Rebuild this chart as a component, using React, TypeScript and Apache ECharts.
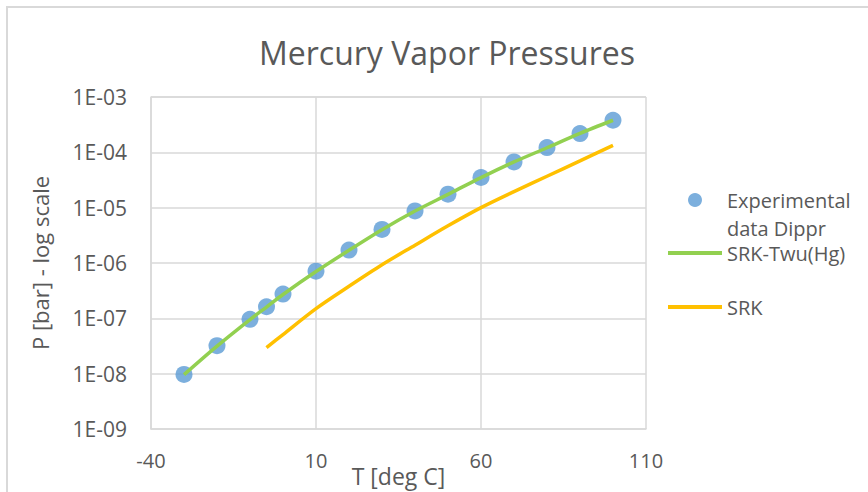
import React, { useEffect, useRef } from "react";
import * as echarts from "echarts";

const expT = [-30, -20, -10, -5, 0, 10, 20, 30, 40, 50, 60, 70, 80, 90, 100];
const expP = [9.7e-9, 3.2e-8, 9.6e-8, 1.62e-7, 2.75e-7, 7.1e-7, 1.71e-6, 4.04e-6, 8.75e-6, 1.75e-5, 3.51e-5, 6.7e-5, 1.22e-4, 2.18e-4, 3.8e-4];

const twuT = [-30, -20, -10, -5, 0, 10, 20, 30, 40, 50, 60, 70, 80, 90, 100];
const twuP = [9.6e-9, 3.15e-8, 9.5e-8, 1.6e-7, 2.7e-7, 7.0e-7, 1.7e-6, 4.0e-6, 8.7e-6, 1.74e-5, 3.5e-5, 6.7e-5, 1.21e-4, 2.2e-4, 3.8e-4];

const srkT = [-5, 0, 10, 20, 30, 40, 50, 60, 70, 80, 90, 100];
const srkP = [2.95e-8, 5.1e-8, 1.5e-7, 3.8e-7, 9.3e-7, 2.1e-6, 4.7e-6, 1.0e-5, 1.95e-5, 3.7e-5, 7.0e-5, 1.34e-4];

const seriesNames = ["Experimental data Dippr", "SRK-Twu(Hg)", "SRK"];
const titleText = "Mercury Vapor Pressures";
const xName = "T [deg C]";
const yName = "P [bar] - log scale";

const FONT = "'Open Sans', 'Noto Sans', sans-serif";
const TXT = "#595959";
const GRID = "#D9D9D9";

function zip(xs: number[], ys: number[]) {
  return xs.map((x, i) => [x, ys[i]]);
}

function fmtE(v: number) {
  const e = Math.round(Math.log10(v));
  return "1E" + (e < 0 ? "-" : "+") + String(Math.abs(e)).padStart(2, "0");
}

export default function App() {
  const ref = useRef<HTMLDivElement>(null);
  useEffect(() => {
    if (!ref.current) return;
    const chart = echarts.init(ref.current, null, { renderer: "svg" });
    chart.setOption({
      animation: false,
      backgroundColor: "#ffffff",
      textStyle: { fontFamily: FONT },
      title: {
        text: titleText,
        left: 442,
        top: 27,
        textAlign: "center",
        textStyle: { fontFamily: FONT, fontSize: 32, fontWeight: "normal", color: TXT, lineHeight: 40 },
      },
      graphic: [
        {
          type: "rect",
          shape: { x: 7, y: 7, width: 880, height: 500 },
          style: { fill: "none", stroke: GRID, lineWidth: 2 },
          silent: true,
        },
      ],
      grid: { left: 151, right: 222, top: 97, bottom: 63, containLabel: false, outerBoundsMode: "none" },
      legend: [
        {
          data: [seriesNames[0]],
          left: 688,
          top: 158,
          padding: 0,
          itemWidth: 54,
          itemHeight: 14,
          icon: "circle",
          formatter: () => "\nExperimental\ndata Dippr",
          textStyle: { fontFamily: FONT, fontSize: 20, color: TXT, lineHeight: 28 },
        },
        {
          data: [seriesNames[1]],
          left: 668,
          top: 241,
          padding: 0,
          itemWidth: 54,
          itemHeight: 4,
          icon: "rect",
          textStyle: { fontFamily: FONT, fontSize: 20, color: TXT, lineHeight: 24 },
        },
        {
          data: [seriesNames[2]],
          left: 668,
          top: 295,
          padding: 0,
          itemWidth: 54,
          itemHeight: 4,
          icon: "rect",
          textStyle: { fontFamily: FONT, fontSize: 20, color: TXT, lineHeight: 24 },
        },
      ],
      xAxis: {
        type: "value",
        min: -40,
        max: 110,
        interval: 50,
        name: xName,
        nameLocation: "middle",
        nameGap: 33,
        nameMoveOverlap: false,
        nameTextStyle: { fontFamily: FONT, fontSize: 23, color: TXT, lineHeight: 28 },
        axisLine: { show: true, onZero: false, lineStyle: { color: GRID, width: 1.5 } },
        axisTick: { show: false },
        axisLabel: { fontFamily: FONT, fontSize: 20, color: TXT, margin: 21 },
        splitLine: { show: true, lineStyle: { color: GRID, width: 1.5 } },
      },
      yAxis: {
        type: "log",
        logBase: 10,
        min: 1e-9,
        max: 1e-3,
        name: yName,
        nameLocation: "middle",
        nameRotate: 90,
        nameGap: 100,
        nameMoveOverlap: false,
        nameTextStyle: { fontFamily: FONT, fontSize: 22, color: TXT },
        axisLine: { show: true, onZero: false, lineStyle: { color: GRID, width: 1.5 } },
        axisTick: { show: false },
        axisLabel: { fontFamily: FONT, fontSize: 21, color: TXT, margin: 24, formatter: (v: number) => fmtE(v) },
        splitLine: { show: true, lineStyle: { color: GRID, width: 1.5 } },
      },
      series: [
        {
          name: seriesNames[0],
          type: "scatter",
          data: zip(expT, expP),
          symbol: "circle",
          symbolSize: 17,
          itemStyle: { color: "#5B9BD5" },
          z: 2,
        },
        {
          name: seriesNames[1],
          type: "line",
          data: zip(twuT, twuP),
          smooth: 0.3,
          symbol: "none",
          lineStyle: { color: "#92D050", width: 3.5 },
          itemStyle: { color: "#92D050" },
          z: 3,
        },
        {
          name: seriesNames[2],
          type: "line",
          data: zip(srkT, srkP),
          smooth: 0.3,
          symbol: "none",
          lineStyle: { color: "#FFC000", width: 3.5 },
          itemStyle: { color: "#FFC000" },
          z: 3,
        },
      ],
    });
    return () => chart.dispose();
  }, []);
  return (
    <div
      ref={ref}
      style={{ position: "absolute", left: 0, top: 0, width: 868, height: 492, background: "#fff" }}
    />
  );
}
